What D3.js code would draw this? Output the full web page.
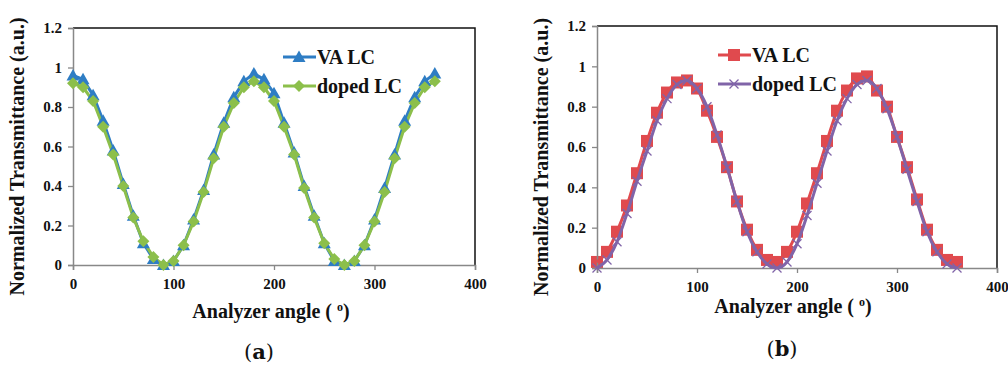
<!DOCTYPE html>
<html>
<head>
<meta charset="utf-8">
<script src="https://cdn.jsdelivr.net/npm/d3@7"></script>
<style>
  body { margin: 0; background: #fff; }
</style>
</head>
<body>
<svg id="viz" width="1008" height="369"></svg>
<script>
var serif = "'Liberation Serif', 'Times New Roman', Times, serif";
var angles = d3.range(0, 361, 10);

// panel (a)
var vaA = [0.96, 0.94, 0.86, 0.73, 0.58, 0.41, 0.25, 0.11, 0.03, 0.00,
	0.02, 0.10, 0.23, 0.38, 0.56, 0.72, 0.85, 0.93, 0.97, 0.94,
	0.87, 0.72, 0.57, 0.40, 0.25, 0.11, 0.02, 0.00, 0.02, 0.10,
	0.23, 0.39, 0.56, 0.73, 0.85, 0.93, 0.97];
var dopedA = [0.92, 0.90, 0.83, 0.70, 0.56, 0.40, 0.24, 0.12, 0.04, 0.00,
	0.02, 0.10, 0.22, 0.37, 0.54, 0.70, 0.82, 0.90, 0.93, 0.90,
	0.83, 0.70, 0.56, 0.39, 0.24, 0.11, 0.03, 0.00, 0.02, 0.10,
	0.22, 0.37, 0.54, 0.70, 0.82, 0.90, 0.93];

// panel (b)
var vaB = [0.03, 0.08, 0.18, 0.31, 0.47, 0.63, 0.77, 0.87, 0.92, 0.93,
	0.89, 0.78, 0.65, 0.50, 0.33, 0.19, 0.09, 0.04, 0.03, 0.08,
	0.18, 0.32, 0.47, 0.63, 0.78, 0.88, 0.94, 0.95, 0.88, 0.80,
	0.65, 0.50, 0.34, 0.19, 0.09, 0.04, 0.03];
var dopedB = [0.00, 0.04, 0.13, 0.27, 0.43, 0.58, 0.73, 0.84, 0.91, 0.93,
	0.89, 0.80, 0.66, 0.50, 0.33, 0.18, 0.08, 0.02, 0.00, 0.03,
	0.12, 0.26, 0.42, 0.58, 0.73, 0.84, 0.91, 0.93, 0.89, 0.79,
	0.65, 0.49, 0.33, 0.18, 0.08, 0.02, 0.00];

var xTicks = [0, 100, 200, 300, 400];
var yTicks = [0, 0.2, 0.4, 0.6, 0.8, 1, 1.2];
var seriesNames = ["VA LC", "doped LC"];

var svg = d3.select('#viz');

var panels = [
	{ left: 73, right: 475, top: 28, bottom: 265, label: "a", titleX: 271, titleY: 318, capY: 359,
	  yTitleX: 24, legX: 283, legY: 57,
	  series: [
		{ name: seriesNames[0], values: vaA, color: "#2e7dc4", width: 3, marker: "tri", curve: d3.curveLinear },
		{ name: seriesNames[1], values: dopedA, color: "#8cbf4b", width: 3, marker: "dia", curve: d3.curveLinear }
	  ] },
	{ left: 597, right: 997, top: 26, bottom: 268, label: "b", titleX: 793, titleY: 313, capY: 356,
	  yTitleX: 548, legX: 718, legY: 55,
	  series: [
		{ name: seriesNames[0], values: vaB, color: "#e04a4e", width: 3, marker: "sq", curve: d3.curveMonotoneX },
		{ name: seriesNames[1], values: dopedB, color: "#8064a8", width: 3, marker: "x", curve: d3.curveMonotoneX }
	  ] }
];

var drawMarker = function(sel, type, color) {
	if (type === "tri") {
		sel.append("path").attr("d", "M0,-6.5L6.5,5L-6.5,5Z").attr("fill", color);
	} else if (type === "dia") {
		sel.append("path").attr("d", "M0,-6L6,0L0,6L-6,0Z").attr("fill", color);
	} else if (type === "sq") {
		sel.append("rect").attr("x", -6).attr("y", -6).attr("width", 12).attr("height", 12).attr("fill", color);
	} else {
		sel.append("path").attr("d", "M-4.5,-4.5L4.5,4.5M-4.5,4.5L4.5,-4.5")
			.attr("stroke", color).attr("stroke-width", 1.3).attr("fill", "none");
	}
};

panels.forEach(function(p) {
	var x = d3.scaleLinear().domain([0, 400]).range([p.left, p.right]);
	var y = d3.scaleLinear().domain([0, 1.2]).range([p.bottom, p.top]);
	var g = svg.append('g');

	// frame (top + right black)
	g.append("path")
		.attr("d", "M" + p.left + "," + p.top + "H" + p.right + "V" + p.bottom)
		.attr("fill", "none").attr("stroke", "#111").attr("stroke-width", 1.5);

	var xAxis = d3.axisBottom(x).tickValues(xTicks).tickSize(5).tickFormat(d3.format("d"));
	var yAxis = d3.axisLeft(y).tickValues(yTicks).tickSize(5).tickFormat(function(d) { return d3.format("")(d); });

	var gx = g.append("g").attr("transform", "translate(0," + p.bottom + ")").call(xAxis);
	var gy = g.append("g").attr("transform", "translate(" + p.left + ",0)").call(yAxis);
	[gx, gy].forEach(function(a) {
		a.attr("font-family", serif);
		a.select(".domain").attr("stroke", "#888").attr("stroke-width", 1.5);
		a.selectAll(".tick line").attr("stroke", "#888").attr("stroke-width", 1.3);
		a.selectAll(".tick text").attr("fill", "#111")
			.attr("font-family", serif)
			.attr("font-size", 15).attr("font-weight", "bold");
	});
	gx.selectAll(".tick text").attr("dy", "1.05em");
	gy.selectAll(".tick text").attr("x", -11);

	p.series.forEach(function(s) {
		var line = d3.line()
			.x(function(d, i) { return x(angles[i]); })
			.y(function(d) { return y(d); })
			.curve(s.curve);
		g.append("path").datum(s.values)
			.attr("d", line)
			.attr("fill", "none").attr("stroke", s.color).attr("stroke-width", s.width)
			.attr("stroke-linejoin", "round");
	});
	// markers; square markers sit behind the purple line in (b)
	p.series.forEach(function(s) {
		var mk = g.append("g");
		s.values.forEach(function(v, i) {
			var m = mk.append("g").attr("transform", "translate(" + x(angles[i]) + "," + y(v) + ")");
			drawMarker(m, s.marker, s.color);
		});
		if (s.marker === "sq") mk.lower();
	});

	// legend
	p.series.forEach(function(s, i) {
		var ly = p.legY + i * 29;
		g.append("line").attr("x1", p.legX).attr("x2", p.legX + 33)
			.attr("y1", ly).attr("y2", ly)
			.attr("stroke", s.color).attr("stroke-width", s.width);
		var m = g.append("g").attr("transform", "translate(" + (p.legX + 16) + "," + ly + ")");
		drawMarker(m, s.marker, s.color);
		g.append("text").attr("x", p.legX + 34).attr("y", ly + 7)
			.attr("font-family", serif)
			.attr("font-size", 20).attr("font-weight", "bold").attr("fill", "#111")
			.text(s.name);
	});

	// axis titles
	g.append("text").attr("x", p.titleX).attr("y", p.titleY)
		.attr("text-anchor", "middle")
		.attr("font-family", serif)
		.attr("font-size", 20).attr("font-weight", "bold").attr("fill", "#111")
		.html("Analyzer angle ( <tspan dy='-7' font-size='12'>o</tspan><tspan dy='7'>)</tspan>");
	g.append("text")
		.attr("transform", "translate(" + p.yTitleX + "," + ((p.top + p.bottom) / 2 + 10) + ") rotate(-90)")
		.attr("text-anchor", "middle")
		.attr("font-family", serif)
		.attr("font-size", 20).attr("font-weight", "bold").attr("fill", "#111")
		.text("Normalized Transmittance (a.u.)");

	// caption
	g.append("text").attr("x", (p.left + p.right) / 2 - 15).attr("y", p.capY)
		.attr("text-anchor", "middle")
		.attr("font-size", 21).attr("fill", "#111")
		.attr("font-family", "'DejaVu Serif', serif")
		.html("(<tspan font-weight='bold'>" + p.label + "</tspan>)");
});
</script>
</body>
</html>
